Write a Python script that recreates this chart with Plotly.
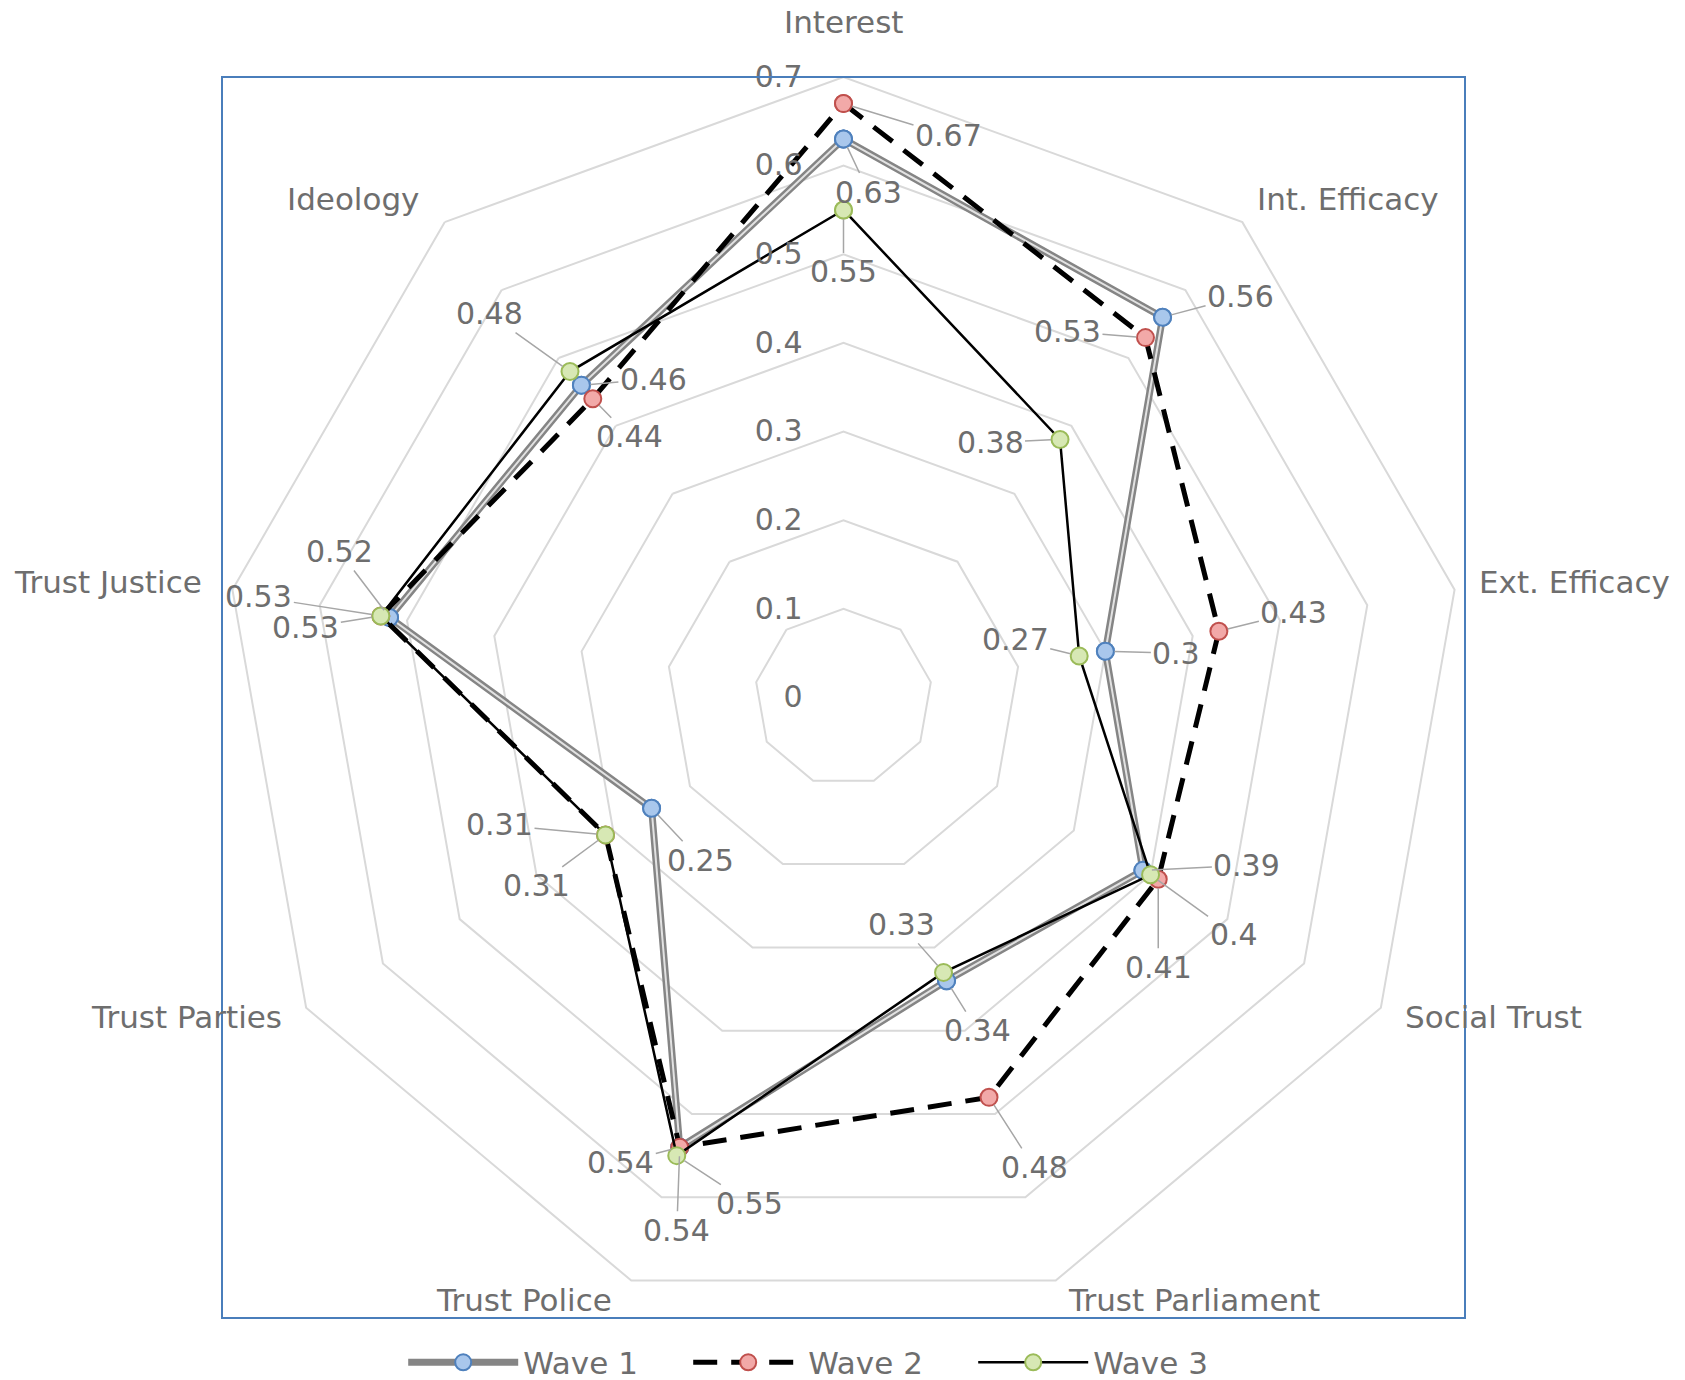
"""Radar chart: political attitudes across three survey waves (Excel style)."""
import math

import plotly.graph_objects as go

W, H = 1685, 1380

categories = ["Interest", "Int. Efficacy", "Ext. Efficacy", "Social Trust",
              "Trust Parliament", "Trust Police", "Trust Parties",
              "Trust Justice", "Ideology"]
wave1 = [0.63, 0.56, 0.30, 0.39, 0.34, 0.54, 0.25, 0.52, 0.46]
wave2 = [0.67, 0.53, 0.43, 0.41, 0.48, 0.54, 0.31, 0.53, 0.44]
wave3 = [0.55, 0.38, 0.27, 0.40, 0.33, 0.55, 0.31, 0.53, 0.48]
radial_ticks = [0, 0.1, 0.2, 0.3, 0.4, 0.5, 0.6, 0.7]

# label offsets (px) from each point, per wave -- styling only
off1 = [(25, 53), (78, -21), (71, 2), (104, -5), (31, 50), (-59, 15), (49, 52), (-50, -66), (72, -6)]
off2 = [(105, 32), (-78, -6), (75, -19), (0, 88), (45, 70), (-3, 83), (-69, 51), (-122, -19), (37, 38)]
off3 = [(0, 62), (-70, 3), (-64, -16), (83, 60), (-42, -48), (73, 48), (-106, -10), (-75, 12), (-81, -58)]
# category label offsets (px) from the outer vertex -- styling only
off_cat = [(0, -55), (106, -23), (120, -8), (113, 9), (138, 19),
           (-107, 19), (-120, 9), (-124, -8), (-92, -23)]

TXT = "#6e6e6e"
GRID = "#d9d9d9"
FONT = "DejaVu Sans"
FS = 30      # data labels / radial ticks
FS_CAT = 31  # category names / legend
MS = 17      # marker size
DOM_X = [222 / W, 1465 / W]
DOM_Y = [(H - 1318) / H, (H - 77) / H]
RMAX = 0.7

cats = categories + categories[:1]


def closed(v):
    return list(v) + list(v[:1])


fig = go.Figure()

# Wave 1: compound grey line (outer grey + light centre), blue markers
m1 = dict(size=MS, color="#a9c7ec", line=dict(color="#4f81bd", width=2))
fig.add_trace(go.Scatterpolar(r=closed(wave1), theta=cats, mode="lines+markers",
                              name="Wave 1", line=dict(color="#858585", width=7),
                              marker=m1))
fig.add_trace(go.Scatterpolar(r=closed(wave1), theta=cats, mode="lines",
                              showlegend=False, line=dict(color="#e2e2e2", width=2),
                              hoverinfo="skip"))
fig.add_trace(go.Scatterpolar(r=wave1, theta=categories, mode="markers",
                              showlegend=False, marker=m1))
# Wave 2: heavy black dashes, red markers
fig.add_trace(go.Scatterpolar(r=closed(wave2), theta=cats, mode="lines+markers",
                              name="Wave 2",
                              line=dict(color="black", width=5, dash="24px,14px"),
                              marker=dict(size=MS, color="#f2a9a8",
                                          line=dict(color="#c0504d", width=2))))
# Wave 3: thin black solid, green markers
fig.add_trace(go.Scatterpolar(r=closed(wave3), theta=cats, mode="lines+markers",
                              name="Wave 3", line=dict(color="black", width=2.5),
                              marker=dict(size=MS, color="#d7e8b4",
                                          line=dict(color="#9bbb59", width=2))))

# polar -> paper conversion (same geometry plotly uses for the domain)
cx = (DOM_X[0] + DOM_X[1]) / 2 * W
cy = H - (DOM_Y[0] + DOM_Y[1]) / 2 * H
R = min((DOM_X[1] - DOM_X[0]) * W, (DOM_Y[1] - DOM_Y[0]) * H) / 2
n = len(categories)


def to_paper(i, v):
    phi = math.radians(360 / n * i)
    px = cx + v / RMAX * R * math.sin(phi)
    py = cy - v / RMAX * R * math.cos(phi)
    return px / W, 1 - py / H


# data labels with leader lines
for vals, offs in [(wave1, off1), (wave2, off2), (wave3, off3)]:
    for i, (v, (ax, ay)) in enumerate(zip(vals, offs)):
        x, y = to_paper(i, v)
        fig.add_annotation(x=x, y=y, xref="paper", yref="paper",
                           text=f"{v:g}", showarrow=True, arrowhead=0,
                           arrowwidth=1.5, arrowcolor="#a6a6a6", standoff=9,
                           ax=ax, ay=ay, font=dict(size=FS, color=TXT))

# category labels around the outer ring
for i, (name, (dx, dy)) in enumerate(zip(categories, off_cat)):
    x, y = to_paper(i, RMAX)
    fig.add_annotation(x=x, y=y, xref="paper", yref="paper", text=name,
                       showarrow=False, xshift=dx, yshift=-dy,
                       xanchor="center", yanchor="middle",
                       font=dict(size=FS_CAT, color=TXT))

# plot-area border
fig.add_shape(type="rect", xref="paper", yref="paper",
              x0=DOM_X[0], x1=DOM_X[1], y0=DOM_Y[0], y1=DOM_Y[1],
              line=dict(color="#4a7ebb", width=2))

fig.update_layout(
    width=W, height=H,
    paper_bgcolor="white", plot_bgcolor="white",
    margin=dict(l=0, r=0, t=0, b=0, autoexpand=False),
    font=dict(family=FONT, color=TXT, size=FS),
    polar=dict(
        domain=dict(x=DOM_X, y=DOM_Y),
        bgcolor="white",
        gridshape="linear",
        angularaxis=dict(rotation=90, direction="clockwise",
                         categoryorder="array", categoryarray=categories,
                         showgrid=False, showline=True, linecolor=GRID,
                         linewidth=2, showticklabels=False, ticks=""),
        radialaxis=dict(range=[0, RMAX], tickvals=radial_ticks, angle=90,
                        side="counterclockwise", showline=False,
                        gridcolor=GRID, gridwidth=2, ticks="outside",
                        ticklen=30, tickcolor="rgba(0,0,0,0)",
                        tickangle=90, tickfont=dict(size=FS, color=TXT)),
    ),
    legend=dict(orientation="h", x=0.493, xanchor="center", y=0.0126,
                yanchor="middle", font=dict(size=FS_CAT, color=TXT),
                itemwidth=110, entrywidth=160, bgcolor="rgba(0,0,0,0)"),
    showlegend=True,
)

fig.write_html("out.html", config={"displayModeBar": False},
               post_script="document.body.style.margin='0';")
